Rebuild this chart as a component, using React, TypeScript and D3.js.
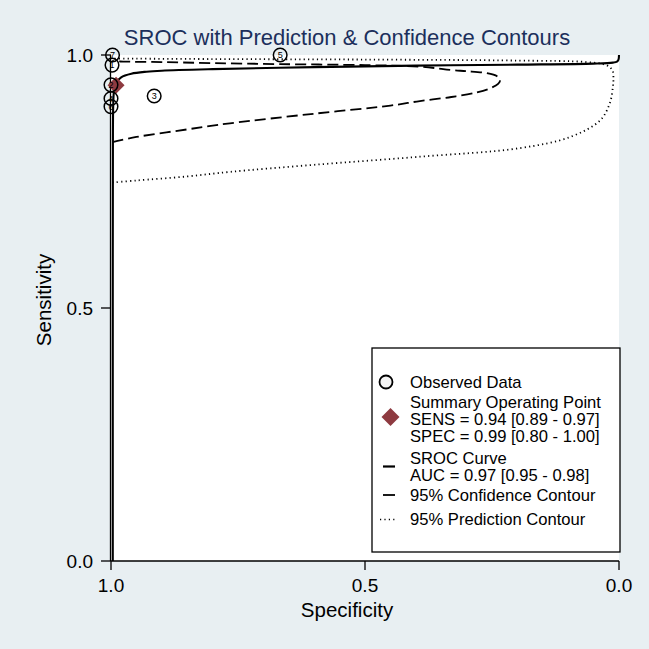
import React from "react";
import * as d3 from "d3";

// ---- Data ----
const studyIds = ["7", "1", "2", "4", "6", "3", "5"];
const studySpec = [0.997, 0.998, 1.0, 1.0, 1.0, 0.915, 0.667];
const studySens = [1.0, 0.98, 0.941, 0.914, 0.898, 0.919, 1.0];

const summarySpec = 0.99;
const summarySens = 0.94;

const srocSpec = [0.9965, 0.9965, 0.9962, 0.9955, 0.994, 0.99, 0.98, 0.96, 0.93, 0.9, 0.8, 0.6, 0.4, 0.2, 0.05, 0.012, 0.004, 0.001, 0.0];
const srocSens = [0.0, 0.5, 0.85, 0.905, 0.93, 0.945, 0.956, 0.963, 0.967, 0.969, 0.972, 0.976, 0.979, 0.981, 0.983, 0.985, 0.987, 0.991, 1.0];

const confSpec = [0.997, 0.95, 0.85, 0.766, 0.6, 0.45, 0.392, 0.33, 0.28, 0.254, 0.238, 0.234, 0.24, 0.26, 0.3, 0.327, 0.392, 0.5, 0.667, 0.8, 0.9, 0.976, 0.998];
const confSens = [0.828, 0.838, 0.853, 0.865, 0.884, 0.9, 0.909, 0.917, 0.926, 0.934, 0.943, 0.951, 0.958, 0.964, 0.968, 0.970, 0.977, 0.980, 0.982, 0.984, 0.986, 0.987, 0.988];

const predSpec = [0.997, 0.95, 0.85, 0.766, 0.6, 0.392, 0.195, 0.096, 0.037, 0.018, 0.012, 0.011, 0.013, 0.025, 0.064, 0.2, 0.5, 0.8, 0.997];
const predSens = [0.748, 0.752, 0.76, 0.769, 0.783, 0.799, 0.816, 0.838, 0.871, 0.905, 0.937, 0.952, 0.97, 0.98, 0.986, 0.989, 0.991, 0.992, 0.993];

const xTicks = [1.0, 0.5, 0.0];
const yTicks = [0.0, 0.5, 1.0];
const tickLabels = ["1.0", "0.5", "0.0"];

const titleText = "SROC with Prediction & Confidence Contours";
const xTitle = "Specificity";
const yTitle = "Sensitivity";

const legendObserved = "Observed Data";
const legendSummary = ["Summary Operating Point", "SENS = 0.94 [0.89 - 0.97]", "SPEC = 0.99 [0.80 - 1.00]"];
const legendSroc = ["SROC Curve", "AUC = 0.97 [0.95 - 0.98]"];
const legendConf = "95% Confidence Contour";
const legendPred = "95% Prediction Contour";

const FONT = "'Liberation Sans', Arial, Helvetica, sans-serif";

export default function App() {
  const W = 649, H = 649;
  const left = 111, right = 619, top = 55, bottom = 561;
  const x = d3.scaleLinear().domain([1, 0]).range([left, right]);
  const y = d3.scaleLinear().domain([0, 1]).range([bottom, top]);

  const sroc = srocSpec.map((s, i) => [s, srocSens[i]] as [number, number]);
  const conf = confSpec.map((s, i) => [s, confSens[i]] as [number, number]);
  const pred = predSpec.map((s, i) => [s, predSens[i]] as [number, number]);

  const lineOpen = d3.line<[number, number]>().x(d => x(d[0])).y(d => y(d[1])).curve(d3.curveCatmullRom.alpha(0.5));

  const diamond = (cx: number, cy: number, r: number) =>
    `M${cx},${cy - r}L${cx + r},${cy}L${cx},${cy + r}L${cx - r},${cy}Z`;

  const lgX = 372, lgY = 348, lgW = 248, lgH = 204;
  const txX = 410;
  const fs = 16.6;

  return (
    <svg width={W} height={H} style={{ position: "absolute", left: 0, top: 0, fontFamily: FONT }}>
      <rect x={0} y={0} width={W} height={H} fill="#e8eff2" />
      <rect x={left} y={top} width={right - left} height={bottom - top} fill="#ffffff" />

      {/* title */}
      <text x={347} y={45} textAnchor="middle" fontSize={22} fill="#1c2f5c">{titleText}</text>

      {/* contours */}
      <path d={lineOpen(pred) || ""} fill="none" stroke="#000" strokeWidth={1.8} strokeDasharray="1.2 3.2" />
      <path d={lineOpen(conf) || ""} fill="none" stroke="#000" strokeWidth={1.8} strokeDasharray="11 5" />
      <path d={lineOpen(sroc) || ""} fill="none" stroke="#000" strokeWidth={2.1} />

      {/* axes */}
      <line x1={left - 0.5} x2={left - 0.5} y1={top} y2={bottom} stroke="#000" strokeWidth={1.3} />
      <line x1={left} x2={right} y1={bottom} y2={bottom} stroke="#000" strokeWidth={1.3} />
      {yTicks.map((t, i) => (
        <g key={"yt" + i}>
          <line x1={left - 10} x2={left} y1={y(t)} y2={y(t)} stroke="#000" strokeWidth={1.3} />
          <text x={left - 18} y={y(t) + 6.8} textAnchor="end" fontSize={19} fill="#000">{tickLabels[2 - i]}</text>
        </g>
      ))}
      {xTicks.map((t, i) => (
        <g key={"xt" + i}>
          <line x1={x(t)} x2={x(t)} y1={bottom} y2={bottom + 9} stroke="#000" strokeWidth={1.3} />
          <text x={x(t)} y={592} textAnchor="middle" fontSize={19} fill="#000">{tickLabels[i]}</text>
        </g>
      ))}
      <text x={347} y={617} textAnchor="middle" fontSize={20.5} fill="#000">{xTitle}</text>
      <text transform={`translate(51,300) rotate(-90)`} textAnchor="middle" fontSize={20.5} fill="#000">{yTitle}</text>

      {/* summary point */}
      <path d={diamond(x(summarySpec), y(summarySens), 8.5)} fill="#8e3a40" />

      {/* observed data */}
      {studyIds.map((id, i) => (
        <g key={"st" + i}>
          <circle cx={x(studySpec[i])} cy={y(studySens[i])} r={6.8} fill="none" stroke="#000" strokeWidth={1.5} />
          <text x={x(studySpec[i])} y={y(studySens[i]) + 3.2} textAnchor="middle" fontSize={9} fill="#000">{id}</text>
        </g>
      ))}

      {/* legend */}
      <rect x={lgX} y={lgY} width={lgW} height={lgH} fill="#fff" stroke="#000" strokeWidth={1.3} />
      <circle cx={386} cy={382} r={6.5} fill="#f4f4f4" stroke="#000" strokeWidth={1.8} />
      <text x={txX} y={388} fontSize={fs}>{legendObserved}</text>

      <path d={diamond(390.5, 417, 9)} fill="#8e3a40" />
      {legendSummary.map((s, i) => (
        <text key={"ls" + i} x={txX} y={408 + i * 17} fontSize={fs}>{s}</text>
      ))}

      <line x1={383} x2={395} y1={466.5} y2={466.5} stroke="#000" strokeWidth={2.2} />
      {legendSroc.map((s, i) => (
        <text key={"lr" + i} x={txX} y={463.5 + i * 17} fontSize={fs}>{s}</text>
      ))}

      <line x1={383} x2={395} y1={495} y2={495} stroke="#000" strokeWidth={1.8} />
      <text x={txX} y={501} fontSize={fs}>{legendConf}</text>

      <line x1={380} x2={396} y1={519.5} y2={519.5} stroke="#000" strokeWidth={1.6} strokeDasharray="1.2 3.2" />
      <text x={txX} y={525} fontSize={fs}>{legendPred}</text>
    </svg>
  );
}
